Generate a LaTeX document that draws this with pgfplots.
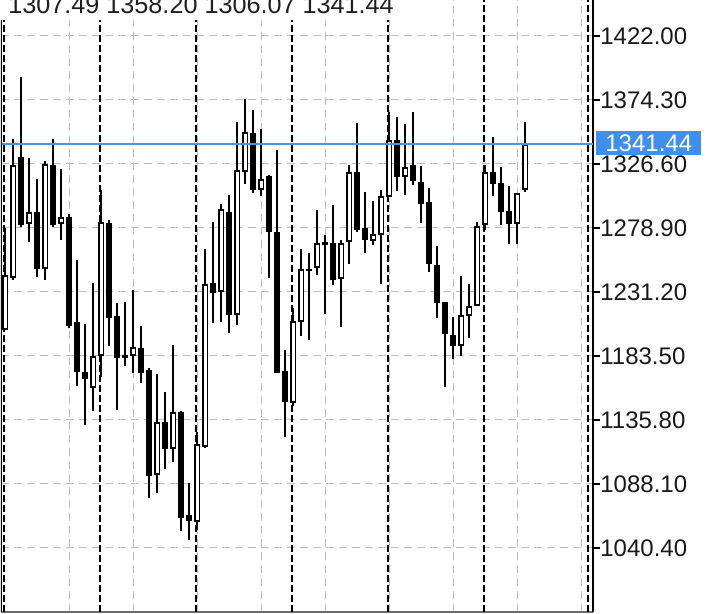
\documentclass[border=0pt]{standalone}
\usepackage{pgfplots}
\pgfplotsset{compat=1.18}
\usepackage{pgfplotstable}
\usepackage{fontspec}
\setmainfont{Liberation Sans}
\definecolor{bidline}{RGB}{80,150,215}
\definecolor{bidbox}{RGB}{64,143,234}
\definecolor{gridgray}{RGB}{188,188,188}

% bullish candles (close > open)
\pgfplotstableread{
i O H L C
0 1202.88 1278.90 1202.88 1243.87
1 1241.64 1345.23 1240.50 1325.86
3 1281.88 1331.07 1268.47 1290.83
5 1248.34 1328.84 1240.14 1326.60
7 1281.88 1322.87 1269.96 1287.10
11 1159.65 1237.91 1142.51 1183.50
12 1183.50 1307.22 1167.85 1283.37
16 1183.50 1232.69 1170.83 1190.21
19 1094.81 1170.09 1081.39 1134.31
21 1114.19 1191.70 1104.50 1141.76
24 1059.78 1126.86 1053.82 1117.91
25 1115.68 1263.25 1114.90 1237.16
27 1231.20 1296.79 1208.84 1293.06
29 1214.06 1357.90 1206.61 1322.13
30 1320.64 1375.05 1311.69 1350.45
32 1307.22 1352.69 1302.75 1315.42
36 1148.47 1219.28 1146.24 1209.59
37 1208.84 1263.25 1198.41 1248.34
39 1249.09 1292.32 1243.87 1267.72
42 1240.89 1269.96 1205.11 1267.72
43 1268.47 1325.86 1252.07 1320.64
46 1269.21 1299.02 1266.23 1274.43
47 1273.68 1307.22 1237.16 1302.75
48 1302.00 1365.36 1302.00 1344.49
50 1316.91 1356.41 1303.50 1324.36
57 1190.95 1243.13 1183.50 1214.06
58 1213.31 1237.16 1196.92 1220.77
59 1220.77 1283.37 1220.77 1280.39
60 1281.14 1325.86 1277.41 1320.64
64 1281.88 1304.99 1266.98 1304.99
65 1307.49 1358.20 1306.07 1341.44
}\bull

% bearish candles (close < open)
\pgfplotstableread{
i O H L C
2 1331.82 1391.44 1280.00 1281.14
4 1290.83 1315.42 1242.38 1248.34
6 1325.86 1345.23 1279.50 1281.14
8 1287.10 1289.33 1204.50 1205.86
9 1208.84 1255.05 1161.14 1171.58
10 1171.58 1207.35 1132.07 1166.36
13 1282.63 1284.86 1190.95 1211.82
14 1213.31 1223.00 1143.25 1182.01
15 1184.25 1223.75 1176.05 1182.01
17 1189.46 1205.86 1163.38 1170.83
18 1173.07 1174.56 1077.67 1094.06
20 1134.31 1156.67 1099.28 1114.19
22 1141.76 1142.50 1053.07 1062.76
23 1065.00 1088.85 1046.36 1060.52
26 1237.91 1283.37 1208.10 1230.46
28 1290.83 1303.50 1200.64 1214.06
31 1349.70 1366.85 1304.99 1307.22
33 1317.66 1318.50 1241.64 1275.92
34 1275.92 1337.03 1170.83 1170.83
35 1172.32 1187.97 1123.13 1149.22
38 1248.34 1260.27 1195.43 1246.85
40 1268.47 1273.68 1214.80 1266.23
41 1267.72 1296.04 1236.42 1240.14
44 1320.64 1357.16 1275.92 1277.41
45 1278.90 1305.73 1260.27 1269.96
49 1344.49 1361.63 1306.48 1316.91
51 1325.86 1365.36 1310.95 1313.93
52 1313.18 1325.11 1282.63 1296.79
53 1298.28 1308.71 1246.11 1252.07
54 1251.32 1265.48 1211.82 1223.00
55 1223.75 1223.75 1160.40 1199.90
56 1199.15 1212.57 1181.26 1190.95
61 1320.64 1346.72 1302.75 1311.69
62 1312.44 1324.36 1281.14 1290.83
63 1291.57 1310.20 1266.98 1281.88
}\bear

\begin{document}
\begin{tikzpicture}
\useasboundingbox (0,0) rectangle (359.5pt,307pt);
\begin{axis}[
  at={(0.5pt,1pt)}, anchor=south west,
  scale only axis, width=296pt, height=306pt,
  xmin=-0.5625, xmax=73.4375, ymin=992.70, ymax=1448.83,
  axis x line=bottom, axis y line=right, axis line style={-},
  x axis line style={draw=gray!85!black, line width=0.7pt},
  y axis line style={draw=black, line width=0.7pt},
  xtick={8.0625,16.0625,24.0625,32.0625,40.0625,48.0625,56.0625,64.0625,72.0625},
  xticklabels={}, xtick style={draw=none},
  ytick={1040.4,1088.1,1135.8,1183.5,1231.2,1278.9,1326.6,1374.3,1422.0},
  yticklabels={1040.40,1088.10,1135.80,1183.50,1231.20,1278.90,1326.60,1374.30,1422.00},
  tick align=outside, major tick length=3.5pt,
  ytick style={draw=black, line width=0.6pt},
  yticklabel style={anchor=west, inner sep=0pt, font=\fontsize{12pt}{14pt}\selectfont, text=black!90},
  xmajorgrids, ymajorgrids,
  major grid style={draw=gridgray, line width=0.5pt, dash pattern=on 4pt off 2.5pt},
  extra x ticks={-0.1875,11.8125,23.8125,35.8125,47.8125,59.8125,72.8125},
  extra x tick labels={},
  extra x tick style={grid=major, major grid style={draw=black, line width=1.05pt, dash pattern=on 3.5pt off 1.5pt}, tick style={draw=none}},
  candle/.style={draw=none, mark=none, forget plot, error bars/.cd, y dir=plus, y explicit, error mark=none},
]
% wicks
\addplot[candle, error bar style={draw=black, line width=1pt}]
  table[x=i, y=L, y error expr=\thisrow{H}-\thisrow{L}] {\bull};
\addplot[candle, error bar style={draw=black, line width=1pt}]
  table[x=i, y=L, y error expr=\thisrow{H}-\thisrow{L}] {\bear};
% bear bodies
\addplot[candle, error bar style={draw=black, line width=3pt}]
  table[x=i, y=C, y error expr=\thisrow{O}-\thisrow{C}] {\bear};
% bull bodies: outline then white interior
\addplot[candle, error bar style={draw=black, line width=3pt}]
  table[x=i, y=O, y error expr=\thisrow{C}-\thisrow{O}] {\bull};
\addplot[candle, error bar style={draw=white, line width=1.4pt}]
  table[x=i, y expr=\thisrow{O}+1.2, y error expr=\thisrow{C}-\thisrow{O}-2.4] {\bull};
% bid line
\addplot[bidline, line width=0.8pt, forget plot] coordinates {(-0.5625,1341.44) (73.4375,1341.44)};
\draw[black, line width=0.6pt] (rel axis cs:0,0) -- (rel axis cs:0,1);
\coordinate (lbl) at (axis cs:73.4375,1341.44);
\end{axis}
\node[anchor=west, fill=bidbox, text=white, inner xsep=4.5pt, inner ysep=0pt, minimum height=12pt,
  text height=8.6pt, text depth=0pt, font=\fontsize{12pt}{14pt}\selectfont]
  at ([xshift=1.5pt,yshift=0.75pt]lbl) {1341.44};
\node[anchor=base west, fill=white, inner xsep=4pt, inner ysep=3pt, text=black!88,
  font=\fontsize{12.6pt}{15pt}\selectfont] at (0pt,300pt) {1307.49 1358.20 1306.07 1341.44};
\end{tikzpicture}
\end{document}
